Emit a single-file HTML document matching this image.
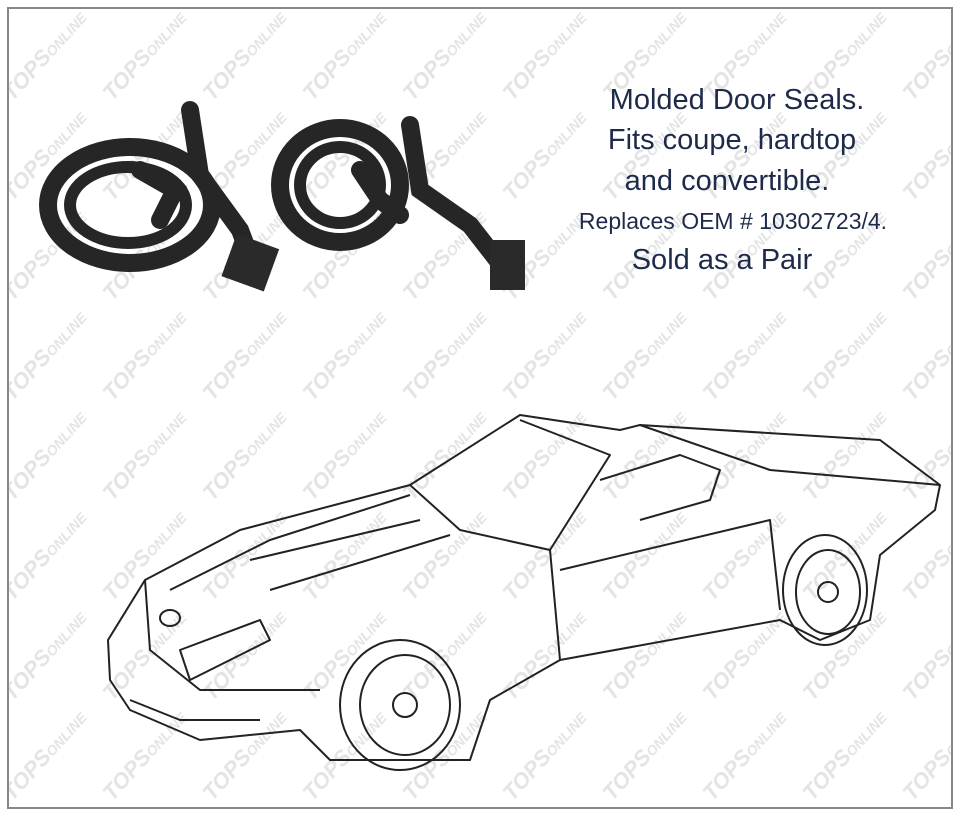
<!DOCTYPE html>
<html style="overflow:hidden;width:960px;height:816px"><head><style>
body{margin:0;width:960px;height:816px;background:#fff;overflow:hidden;font-family:"Liberation Sans",sans-serif;position:relative}
svg{position:absolute;left:0;top:0;display:block}
</style></head><body>
<svg width="960" height="816" viewBox="0 0 960 816" overflow="hidden">
<defs>
<text id="wm" x="0" y="0" font-family="Liberation Sans" font-weight="bold" font-style="italic" font-size="22" fill="#e4e4e4" text-anchor="middle">TOPS<tspan font-size="14">ONLINE</tspan></text>
<g id="row">
<use href="#wm" transform="translate(50,0) rotate(-48)"/>
<use href="#wm" transform="translate(150,0) rotate(-48)"/>
<use href="#wm" transform="translate(250,0) rotate(-48)"/>
<use href="#wm" transform="translate(350,0) rotate(-48)"/>
<use href="#wm" transform="translate(450,0) rotate(-48)"/>
<use href="#wm" transform="translate(550,0) rotate(-48)"/>
<use href="#wm" transform="translate(650,0) rotate(-48)"/>
<use href="#wm" transform="translate(750,0) rotate(-48)"/>
<use href="#wm" transform="translate(850,0) rotate(-48)"/>
<use href="#wm" transform="translate(950,0) rotate(-48)"/>
</g>
<clipPath id="c"><rect x="9" y="9" width="942" height="798"/></clipPath>
</defs>
<rect x="8" y="8" width="944" height="800" fill="#fff" stroke="#888" stroke-width="2"/>
<g clip-path="url(#c)">
<use href="#row" y="60"/><use href="#row" y="160"/><use href="#row" y="260"/>
<use href="#row" y="360"/><use href="#row" y="460"/><use href="#row" y="560"/>
<use href="#row" y="660"/><use href="#row" y="760"/>
</g>
<!-- seals -->
<g fill="none" stroke="#262626" stroke-linecap="round">
<ellipse cx="130" cy="205" rx="82" ry="58" stroke-width="18"/>
<ellipse cx="128" cy="205" rx="58" ry="38" stroke-width="12"/>
<path d="M190 110 L200 175 L240 230 L255 270" stroke-width="18"/>
<path d="M140 170 L175 190 L160 220" stroke-width="18"/>
<ellipse cx="340" cy="185" rx="60" ry="57" stroke-width="18"/>
<ellipse cx="340" cy="185" rx="40" ry="38" stroke-width="12"/>
<path d="M410 125 L420 190 L470 225 L505 270" stroke-width="18"/>
<path d="M360 170 L380 200 L400 215" stroke-width="18"/>
</g>
<rect x="228" y="240" width="45" height="45" fill="#2a2a2a" transform="rotate(20 250 262)"/>
<rect x="490" y="240" width="35" height="50" fill="#2a2a2a"/>
<!-- text -->
<g font-family="Liberation Sans" fill="#1e2a4a" text-anchor="middle">
<text x="737" y="109" font-size="29">Molded Door Seals.</text>
<text x="732" y="149" font-size="29">Fits coupe, hardtop</text>
<text x="727" y="190" font-size="29">and convertible.</text>
<text x="733" y="229" font-size="23">Replaces OEM # 10302723/4.</text>
<text x="722" y="269" font-size="29">Sold as a Pair</text>
</g>
<!-- car -->
<g fill="none" stroke="#222" stroke-width="2" stroke-linejoin="round">
<path d="M108 640 L145 580 L240 530 L410 485 L520 415 L620 430 L640 425 L880 440 L940 485 L935 510 L880 555 L870 620 L820 640 L780 620 L560 660 L490 700 L470 760 L330 760 L300 730 L200 740 L130 710 L110 680 Z"/>
<path d="M410 485 L460 530 L550 550 L610 455 L520 420"/>
<path d="M550 550 L560 660"/>
<path d="M560 570 L770 520 L780 610"/>
<path d="M640 425 L770 470 L940 485"/>
<path d="M145 580 L150 650 L200 690 L320 690"/>
<path d="M170 590 L270 540 L410 495"/>
<path d="M250 560 L420 520 M270 590 L450 535"/>
<ellipse cx="400" cy="705" rx="60" ry="65"/>
<ellipse cx="405" cy="705" rx="45" ry="50"/>
<circle cx="405" cy="705" r="12"/>
<ellipse cx="825" cy="590" rx="42" ry="55"/>
<ellipse cx="828" cy="592" rx="32" ry="42"/>
<circle cx="828" cy="592" r="10"/>
<path d="M130 700 L180 720 L260 720" />
<path d="M180 650 L260 620 L270 640 L190 680 Z"/>
<path d="M600 480 L680 455 L720 470 L710 500 L640 520"/>
<ellipse cx="170" cy="618" rx="10" ry="8"/>
</g>
</svg>
</body></html>
